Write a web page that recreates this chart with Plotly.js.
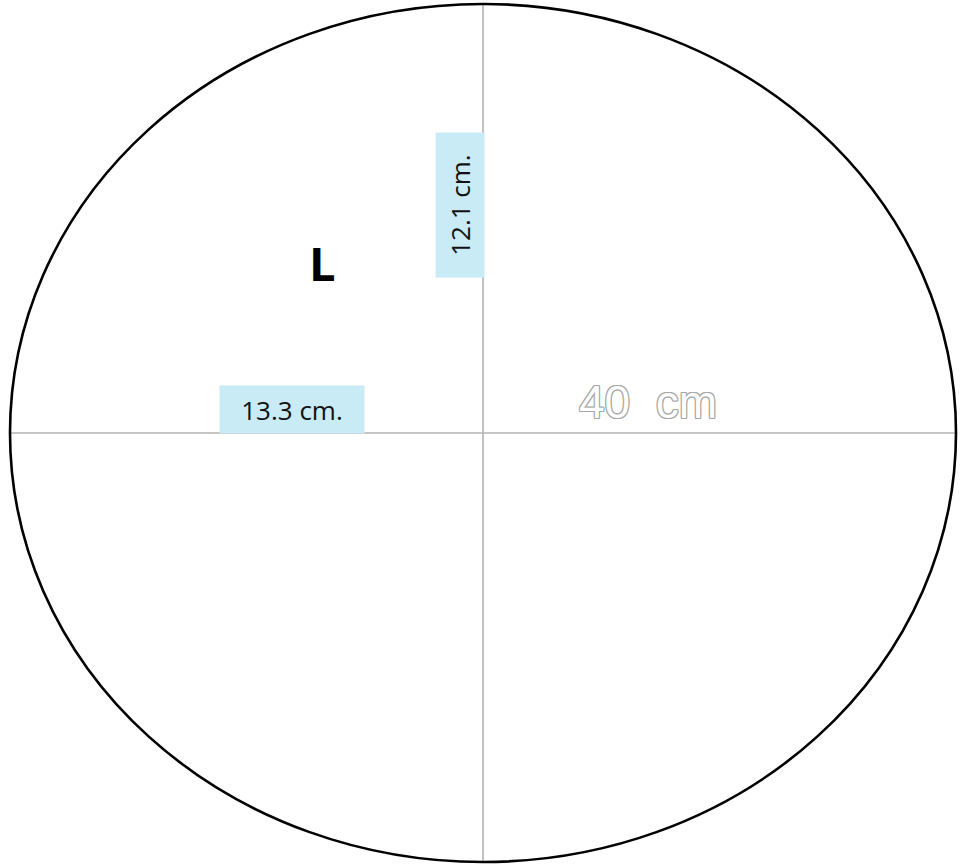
<!DOCTYPE html>
<html>
<head>
<meta charset="utf-8">
<script src="https://cdn.plot.ly/plotly-3.0.1.min.js"></script>
<style>html,body{margin:0;padding:0;background:#fff;}#chart{width:963px;height:866px;}</style>
</head>
<body>
<div id="chart"></div>
<script>
// Chart values (cm)
const ellipseWidth = 40;          // horizontal diameter
const ellipseHeight = 36.28;      // vertical diameter
const labelTexts = ["12.1 cm.", "13.3 cm.", "L", "40\u00a0\u00a0cm"];
const labelX = [-0.97, -8.08, -6.8, 6.98];
const labelY = [9.64, 0.99, 7.2, 1.3];

const a = ellipseWidth / 2, b = ellipseHeight / 2;
const S = 23.65; // px per cm
const W = 963, H = 866, cx = 483, cy = 433;

const shapes = [
  {type: 'line', x0: -a, x1: a, y0: 0, y1: 0, line: {color: '#b3b3b3', width: 1.6}},
  {type: 'line', x0: 0, x1: 0, y0: -b, y1: b, line: {color: '#b3b3b3', width: 1.6}},
  {type: 'circle', x0: -a, x1: a, y0: -b, y1: b, line: {color: '#000', width: 2.6}}
];

const blue = '#c9ebf6';
const g = '#a6a6a6';
const annotations = [
  {x: labelX[0], y: labelY[0], text: labelTexts[0], showarrow: false, textangle: -90,
   bgcolor: blue, width: 142, height: 46, font: {family: 'Open Sans', size: 26, color: '#111'}},
  {x: labelX[1], y: labelY[1], text: labelTexts[1], showarrow: false,
   bgcolor: blue, width: 142, height: 45, font: {family: 'Open Sans', size: 26, color: '#111'}},
  {x: labelX[2], y: labelY[2], text: '<b>' + labelTexts[2] + '</b>', showarrow: false,
   font: {family: 'Open Sans', size: 47, color: '#000'}},
  {x: labelX[3], y: labelY[3], text: labelTexts[3], showarrow: false,
   font: {family: 'Liberation Sans', size: 46, color: '#ffffff',
          shadow: `-1px -1px 0 ${g}, 1px -1px 0 ${g}, -1px 1px 0 ${g}, 1px 1px 0 ${g}, 0 1px 0 ${g}, 0 -1px 0 ${g}, 1px 0 0 ${g}, -1px 0 0 ${g}`}}
];

const layout = {
  width: W, height: H,
  margin: {l: 0, r: 0, t: 0, b: 0, pad: 0},
  paper_bgcolor: '#fff', plot_bgcolor: '#fff',
  showlegend: false,
  xaxis: {range: [-cx / S, (W - cx) / S], visible: false, fixedrange: true},
  yaxis: {range: [-(H - cy) / S, cy / S], visible: false, fixedrange: true},
  shapes: shapes,
  annotations: annotations
};

Plotly.newPlot('chart', [{x: [], y: [], type: 'scatter', mode: 'lines'}], layout, {staticPlot: true});
</script>
</body>
</html>
